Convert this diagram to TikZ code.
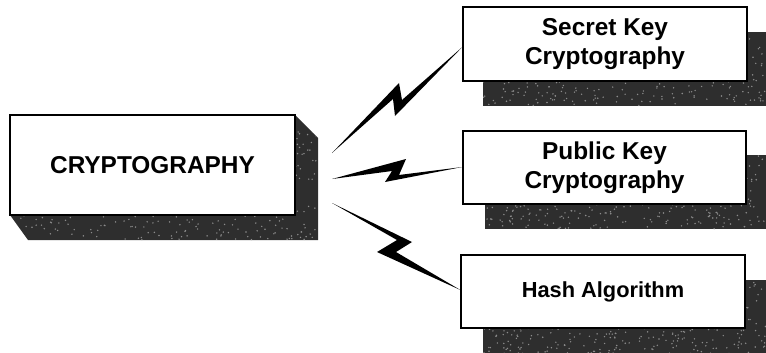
\documentclass[tikz,border=0pt]{standalone}
\usepackage{fontspec}
\setmainfont{Liberation Sans}
\begin{document}
\begin{tikzpicture}[x=1pt,y=-1pt,
  face/.style={draw=black, line width=1.2pt, fill=white, inner sep=0pt,
    align=center, font=\bfseries\fontsize{24.4}{29}\selectfont},
  shadowfill/.style={fill=black!82},
  speck/.style={fill=black!45},
  bolt/.style={fill=black}]
\useasboundingbox (0,0) rectangle (766,353);
\pgfmathsetseed{11}

% extruded block behind the main box
\def\blockpath{(10,215) -- (295,215) -- (295,115) -- (318,138) -- (318,240) -- (28,240) -- cycle}
\fill[shadowfill] \blockpath;
\begin{scope}
  \clip \blockpath;
  \foreach \k in {1,...,700}
    \fill[speck] ({10+rnd*308},{115+rnd*125}) circle (0.8);
\end{scope}

% drop shadows of the three branch boxes
\foreach \sx/\sy in {483/32, 485/155, 483/280} {
  \fill[shadowfill] (\sx,\sy) rectangle (766,{\sy+74});
  \begin{scope}
    \clip (\sx,\sy) rectangle (766,{\sy+74});
    \foreach \k in {1,...,450}
      \fill[speck] ({\sx+rnd*(766-\sx)},{\sy+rnd*74}) circle (0.8);
  \end{scope}
}

% boxes
\node[face, minimum width=285, minimum height=100] (crypto) at (152.5,165) {CRYPTOGRAPHY};
\node[face, minimum width=284, minimum height=74] (secret) at (605,44) {Secret Key\\Cryptography};
\node[face, minimum width=283, minimum height=73] (public) at (604.5,167.5) {Public Key\\Cryptography};
\node[face, minimum width=284, minimum height=73, font=\bfseries\fontsize{21.8}{26}\selectfont] (hash) at (603,291.5) {Hash Algorithm};

% lightning-bolt connectors
\coordinate (b1s) at (332,153); \coordinate (b1e) at (secret.west |- 0,47);
\coordinate (b2s) at (332,179); \coordinate (b2e) at (public.west |- 0,167);
\coordinate (b3s) at (332,203); \coordinate (b3e) at (hash.west |- 0,290);

\fill[bolt] (b1s) -- (399,83) -- (402,100) -- (b1e) -- (395,116) -- (393,99) -- cycle;
\fill[bolt] (b2s) -- (406,159) -- (399,175) -- (b2e) -- (385,182) -- (392,171) -- cycle;
\fill[bolt] (b3s) -- (412,242) -- (396,252) -- (b3e) -- (377,252) -- (397,240) -- cycle;
\end{tikzpicture}
\end{document}
